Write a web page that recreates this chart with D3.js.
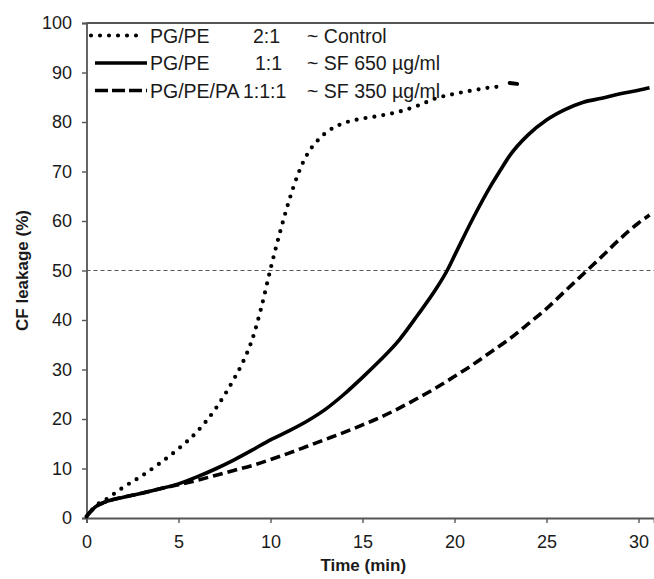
<!DOCTYPE html>
<html>
<head>
<meta charset="utf-8">
<script src="https://cdn.jsdelivr.net/npm/d3@7"></script>
<style>
  html, body { margin: 0; padding: 0; background: #fff; }
  svg { display: block; font-family: "Liberation Sans", Arial, sans-serif; }
</style>
</head>
<body>
<svg id="chart" width="654" height="579"></svg>
<script>
// ---- data ----
const xTicks = [0, 5, 10, 15, 20, 25, 30];
const yTicks = [0, 10, 20, 30, 40, 50, 60, 70, 80, 90, 100];
const refLevel = 50;

// PG/PE 2:1 ~ Control (dotted)
const controlT = [0, 0.2, 0.5, 1, 1.5, 2, 3, 4, 5, 6, 7, 8, 8.5, 9, 9.5, 10, 10.5, 11, 11.5, 12, 12.5, 13, 13.5, 14, 15, 16, 17, 18, 19, 20, 21, 22, 22.6];
const controlV = [0.3, 1.2, 2.5, 3.6, 4.9, 6.2, 8.5, 11.1, 14, 17.4, 22, 28, 31.5, 36, 42.5, 50.3, 57.5, 64, 69.5, 73.5, 76, 77.8, 79, 79.8, 80.7, 81.3, 82.1, 83.3, 84.8, 85.7, 86.4, 87, 87.2];
// separate short segment at end of control trace
const controlTailT = [23.0, 23.4];
const controlTailV = [87.9, 87.7];

// PG/PE 1:1 ~ SF 650 ug/ml (solid)
const sf650T = [0, 0.2, 0.5, 1, 2, 3, 4, 5, 6, 7, 8, 9, 10, 11, 12, 13, 14, 15, 16, 17, 18, 19, 19.6, 20, 21, 22, 22.5, 23, 24, 25, 26, 27, 28, 29, 30, 30.6];
const sf650V = [0.3, 1.2, 2.3, 3.2, 4.2, 5, 5.9, 6.9, 8.3, 9.9, 11.7, 13.7, 15.8, 17.6, 19.6, 22, 25, 28.4, 32, 36, 41, 46.3, 50, 53, 60.5, 67.3, 70.3, 73.2, 77.4, 80.4, 82.5, 84, 84.8, 85.7, 86.4, 86.9];

// PG/PE/PA 1:1:1 ~ SF 350 ug/ml (dashed)
const sf350T = [0, 0.2, 0.5, 1, 2, 3, 4, 5, 6, 7, 8, 9, 10, 11, 12, 13, 14, 15, 16, 17, 18, 19, 20, 21, 22, 23, 24, 25, 26, 27, 28, 29, 30, 30.6];
const sf350V = [0.3, 1.2, 2.3, 3.2, 4.2, 5, 5.9, 6.7, 7.6, 8.6, 9.6, 10.6, 11.8, 13.1, 14.5, 15.9, 17.3, 18.8, 20.4, 22.2, 24.2, 26.3, 28.6, 31, 33.6, 36.2, 39.2, 42.3, 45.8, 49.3, 52.8, 56.4, 59.6, 61.2];

const legendNames = ["PG/PE", "PG/PE", "PG/PE/PA"];
const legendRatios = ["2:1", "1:1", "1:1:1"];
const legendLabels = ["~ Control", "~ SF 650 \u00b5g/ml", "~ SF 350 \u00b5g/ml"];
const xTitle = "Time (min)";
const yTitle = "CF leakage (%)";

(function () {
// ---- layout ----
const svg = d3.select("#chart");
const pLeft = 86.5, pRight = 654, pTop = 23, pBottom = 518;
const pxPerMin = 18.4;
const x = d3.scaleLinear().domain([0, (pRight - pLeft) / pxPerMin]).range([pLeft, pRight]);
const y = d3.scaleLinear().domain([0, 100]).range([pBottom, pTop]);
const ff = "'Liberation Sans', Arial, sans-serif";

const styles = [
  { dash: "0 9", width: 4.2, cap: "round" },
  { dash: null, width: 3.6, cap: "butt" },
  { dash: "10 5", width: 3.6, cap: "butt" }
];

// reference line at 50%
svg.append("line")
  .attr("x1", pLeft).attr("x2", pRight)
  .attr("y1", y(refLevel)).attr("y2", y(refLevel))
  .attr("stroke", "#555").attr("stroke-width", 1.2)
  .attr("stroke-dasharray", "4 3");

// frame top line
svg.append("line")
  .attr("x1", pLeft).attr("x2", pRight)
  .attr("y1", pTop).attr("y2", pTop)
  .attr("stroke", "#555").attr("stroke-width", 1.8);

// axes
const xAxis = d3.axisBottom(x).tickValues(xTicks).tickSize(5).tickPadding(12);
const yAxis = d3.axisLeft(y).tickValues(yTicks).tickSize(4.5).tickPadding(10);

const gx = svg.append("g").attr("transform", `translate(0,${pBottom})`).call(xAxis);
const gy = svg.append("g").attr("transform", `translate(${pLeft},0)`).call(yAxis);
[gx, gy].forEach(g => {
  g.select(".domain").attr("stroke", "#555").attr("stroke-width", 1.8);
  g.selectAll(".tick line").attr("stroke", "#555").attr("stroke-width", 1.4);
  g.selectAll(".tick text").attr("fill", "#1a1a1a")
    .style("font-family", ff).style("font-size", "18px");
});

// axis titles
svg.append("text")
  .attr("x", (pLeft + 640) / 2).attr("y", 571)
  .attr("text-anchor", "middle")
  .style("font-size", "17px").style("font-weight", "bold").attr("fill", "#1a1a1a")
  .text(xTitle);
svg.append("text")
  .attr("transform", `translate(28,${(pTop + pBottom) / 2}) rotate(-90)`)
  .attr("text-anchor", "middle")
  .style("font-size", "17px").style("font-weight", "bold").attr("fill", "#1a1a1a")
  .text(yTitle);

// series
const line = d3.line().x(d => x(d[0])).y(d => y(d[1])).curve(d3.curveMonotoneX);
const series = [
  [d3.zip(controlT, controlV), d3.zip(controlTailT, controlTailV)],
  [d3.zip(sf650T, sf650V)],
  [d3.zip(sf350T, sf350V)]
];
series.forEach((segs, i) => {
  segs.forEach((pts, j) => {
    const st = (i === 0 && j === 1) ? { dash: null, width: 4, cap: "round" } : styles[i];
    svg.append("path")
      .datum(pts)
      .attr("d", line)
      .attr("fill", "none")
      .attr("stroke", "#000")
      .attr("stroke-width", st.width)
      .attr("stroke-linecap", st.cap)
      .attr("stroke-linejoin", "round")
      .attr("stroke-dasharray", st.dash);
  });
});

// legend
const rowY = [35.5, 63, 90.5];
const lineX1 = [91, 95, 95], lineX2 = [141, 147, 147];
const lg = svg.append("g");
rowY.forEach((ry, i) => {
  lg.append("line")
    .attr("x1", lineX1[i]).attr("x2", lineX2[i])
    .attr("y1", ry).attr("y2", ry)
    .attr("stroke", "#000")
    .attr("stroke-width", styles[i].width)
    .attr("stroke-linecap", styles[i].cap)
    .attr("stroke-dasharray", i === 2 ? "13 4" : styles[i].dash);
  const ty = ry + 7;
  lg.append("text").attr("x", 150).attr("y", ty).text(legendNames[i]);
  lg.append("text").attr("x", [253, 255, 243][i]).attr("y", ty).text(legendRatios[i]);
  lg.append("text").attr("x", 307).attr("y", ty).text(legendLabels[i]);
});
lg.selectAll("text").style("font-size", "19.5px").style("font-family", ff).attr("fill", "#1a1a1a");
})();
</script>
</body>
</html>
